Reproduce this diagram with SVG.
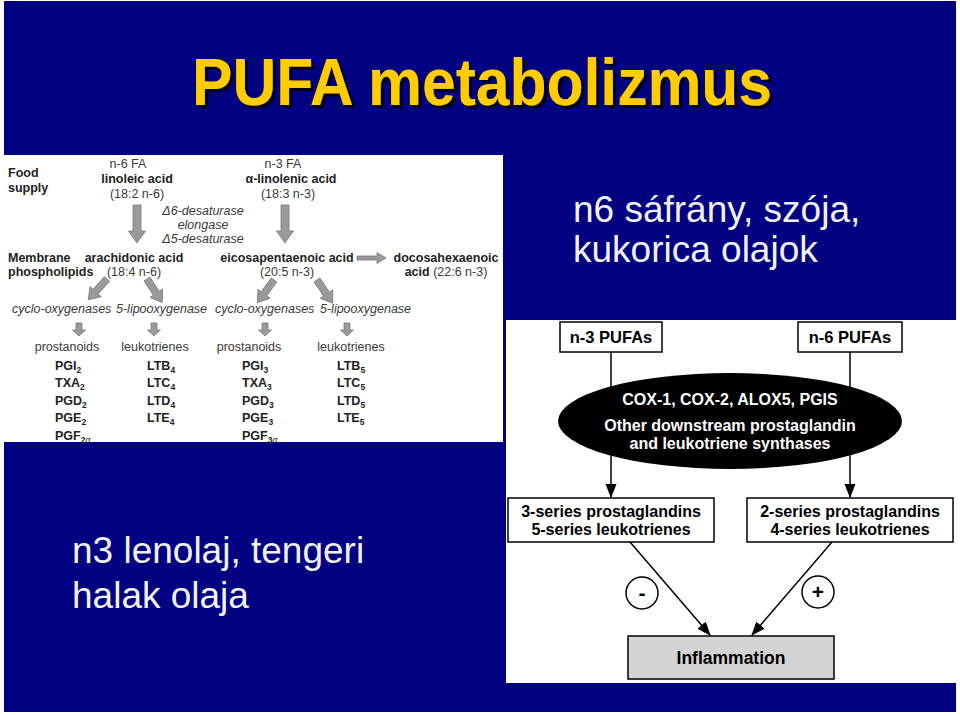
<svg xmlns="http://www.w3.org/2000/svg" width="960" height="716" viewBox="0 0 960 716">
<defs>
<style>
.lp{font-family:"Liberation Sans",Arial,sans-serif;font-size:12.5px;fill:#222}
.b{font-weight:bold}
.i{font-style:italic}
.n{fill:#3a3a3a}
.m{text-anchor:middle}
.sub{font-size:8.5px}
.rp{font-family:"Liberation Sans",Arial,sans-serif;font-size:16px;font-weight:bold;fill:#000;text-anchor:middle}
.el{fill:#fff;font-size:16px}
.box{fill:#fff;stroke:#000;stroke-width:1.5}
.side{font-family:"Liberation Sans",Arial,sans-serif;font-size:37px;fill:#f2f2ff}
.garrow{fill:#9a9a9a;stroke:#7a7a7a;stroke-width:0.8}
.con{stroke:#000;stroke-width:1.5;fill:none}
</style>
<filter id="shadow" x="-5%" y="-20%" width="110%" height="140%">
<feOffset in="SourceAlpha" dx="2.5" dy="2.5" result="off"/>
<feFlood flood-color="#000000"/>
<feComposite in2="off" operator="in" result="sh"/>
<feMerge><feMergeNode in="sh"/><feMergeNode in="SourceGraphic"/></feMerge>
</filter>
<marker id="ah" markerUnits="userSpaceOnUse" markerWidth="14" markerHeight="14" viewBox="0 0 14 14" refX="13" refY="7" orient="auto">
<path d="M0,1.5 L14,7 L0,12.5 Z" fill="#000"/>
</marker>
<path id="bigA" d="M-4,0 H4 V26 H8.5 L0,38 L-8.5,26 H-4 Z"/>
<path id="smA" d="M-3,0 H3 V7 H6.5 L0,13 L-6.5,7 H-3 Z"/>
<path id="dgA" d="M-3.5,0 H3.5 V17 H7.5 L0,28 L-7.5,17 H-3.5 Z"/>
</defs>

<rect x="0" y="0" width="960" height="716" fill="#ffffff"/>
<rect x="4" y="1" width="952" height="711" fill="#000080"/>

<g id="title">
<text x="482" y="105" text-anchor="middle" font-family="'Liberation Sans Narrow','Liberation Sans',Arial,sans-serif" font-weight="bold" font-size="66" textLength="580" lengthAdjust="spacingAndGlyphs" fill="#FFCC00" filter="url(#shadow)">PUFA metabolizmus</text>
</g>

<g id="n6-text">
<text class="side" x="573" y="222">n6 sáfrány, szója,</text>
<text class="side" x="573" y="262">kukorica olajok</text>
</g>
<g id="n3-text">
<text class="side" x="72" y="563">n3 lenolaj, tengeri</text>
<text class="side" x="72" y="608">halak olaja</text>
</g>

<g id="left-panel">
<rect x="4" y="155" width="499" height="287" fill="#ffffff"/>
<text class="lp b" x="8" y="177">Food</text>
<text class="lp b" x="8" y="192">supply</text>
<text class="lp n m" x="128" y="168">n-6 FA</text>
<text class="lp b m" x="137" y="183">linoleic acid</text>
<text class="lp n m" x="137" y="198">(18:2 n-6)</text>
<use href="#bigA" class="garrow" x="137" y="205"/>
<text class="lp n m i" x="203" y="215">Δ6-desaturase</text>
<text class="lp n m i" x="203" y="229">elongase</text>
<text class="lp n m i" x="203" y="243">Δ5-desaturase</text>
<text class="lp n m" x="283" y="168">n-3 FA</text>
<text class="lp b m" x="291" y="183">α-linolenic acid</text>
<text class="lp n m" x="288" y="198">(18:3 n-3)</text>
<use href="#bigA" class="garrow" x="285" y="205"/>
<text class="lp b" x="8" y="262">Membrane</text>
<text class="lp b" x="8" y="276">phospholipids</text>
<text class="lp b m" x="134" y="262">arachidonic acid</text>
<text class="lp n m" x="134" y="276">(18:4 n-6)</text>
<text class="lp b m" x="287" y="262">eicosapentaenoic acid</text>
<text class="lp n m" x="287" y="276">(20:5 n-3)</text>
<path class="garrow" d="M357,256 H377 V252.5 L386,258 L377,263.5 V260 H357 Z"/>
<text class="lp b m" x="446" y="262">docosahexaenoic</text>
<text class="lp m" x="446" y="276"><tspan class="b">acid</tspan><tspan class="n"> (22:6 n-3)</tspan></text>
<use href="#dgA" class="garrow" transform="translate(107,279) rotate(42)"/>
<use href="#dgA" class="garrow" transform="translate(147,279) rotate(-33)"/>
<use href="#dgA" class="garrow" transform="translate(274,280) rotate(36)"/>
<use href="#dgA" class="garrow" transform="translate(317,280) rotate(-34)"/>
<text class="lp n i" x="12" y="313">cyclo-oxygenases</text>
<text class="lp n i" x="116" y="313">5-lipooxygenase</text>
<text class="lp n i" x="215" y="313">cyclo-oxygenases</text>
<text class="lp n i" x="320" y="313">5-lipooxygenase</text>
<use href="#smA" class="garrow" x="79" y="323"/>
<use href="#smA" class="garrow" x="154" y="323"/>
<use href="#smA" class="garrow" x="265" y="323"/>
<use href="#smA" class="garrow" x="347" y="323"/>
<text class="lp n m" x="67" y="351">prostanoids</text>
<text class="lp n m" x="155" y="351">leukotrienes</text>
<text class="lp n m" x="249" y="351">prostanoids</text>
<text class="lp n m" x="351" y="351">leukotrienes</text>
<text class="lp b" x="55" y="370">PGI<tspan class="sub" dy="3">2</tspan></text>
<text class="lp b" x="55" y="387">TXA<tspan class="sub" dy="3">2</tspan></text>
<text class="lp b" x="55" y="405">PGD<tspan class="sub" dy="3">2</tspan></text>
<text class="lp b" x="55" y="422">PGE<tspan class="sub" dy="3">2</tspan></text>
<text class="lp b" x="55" y="440">PGF<tspan class="sub" dy="3">2<tspan font-style="italic" font-weight="normal">α</tspan></tspan></text>
<text class="lp b" x="147" y="370">LTB<tspan class="sub" dy="3">4</tspan></text>
<text class="lp b" x="147" y="387">LTC<tspan class="sub" dy="3">4</tspan></text>
<text class="lp b" x="147" y="405">LTD<tspan class="sub" dy="3">4</tspan></text>
<text class="lp b" x="147" y="422">LTE<tspan class="sub" dy="3">4</tspan></text>
<text class="lp b" x="242" y="370">PGI<tspan class="sub" dy="3">3</tspan></text>
<text class="lp b" x="242" y="387">TXA<tspan class="sub" dy="3">3</tspan></text>
<text class="lp b" x="242" y="405">PGD<tspan class="sub" dy="3">3</tspan></text>
<text class="lp b" x="242" y="422">PGE<tspan class="sub" dy="3">3</tspan></text>
<text class="lp b" x="242" y="440">PGF<tspan class="sub" dy="3">3<tspan font-style="italic" font-weight="normal">α</tspan></tspan></text>
<text class="lp b" x="337" y="370">LTB<tspan class="sub" dy="3">5</tspan></text>
<text class="lp b" x="337" y="387">LTC<tspan class="sub" dy="3">5</tspan></text>
<text class="lp b" x="337" y="405">LTD<tspan class="sub" dy="3">5</tspan></text>
<text class="lp b" x="337" y="422">LTE<tspan class="sub" dy="3">5</tspan></text>
</g>

<rect x="506" y="320" width="454" height="363" fill="#ffffff"/>

<g id="connectors">
<line class="con" x1="611" y1="352" x2="611" y2="497" marker-end="url(#ah)"/>
<line class="con" x1="850" y1="352" x2="850" y2="497" marker-end="url(#ah)"/>
<line class="con" x1="630" y1="542" x2="710" y2="635" marker-end="url(#ah)"/>
<line class="con" x1="832" y1="542" x2="752" y2="635" marker-end="url(#ah)"/>
</g>

<g id="n3-pufas">
<rect class="box" x="560" y="322" width="102" height="30"/>
<text class="rp" x="611" y="343" style="font-size:16.5px">n-3 PUFAs</text>
</g>
<g id="n6-pufas">
<rect class="box" x="798" y="322" width="104" height="30"/>
<text class="rp" x="850" y="343" style="font-size:16.5px">n-6 PUFAs</text>
</g>
<g id="enzymes">
<ellipse cx="730" cy="421" rx="172" ry="48" fill="#000"/>
<text class="rp el" x="730" y="405">COX-1, COX-2, ALOX5, PGIS</text>
<text class="rp el" x="730" y="431">Other downstream prostaglandin</text>
<text class="rp el" x="730" y="449">and leukotriene synthases</text>
</g>
<g id="series-3-5">
<rect class="box" x="508" y="498" width="206" height="44"/>
<text class="rp" x="611" y="517">3-series prostaglandins</text>
<text class="rp" x="611" y="535">5-series leukotrienes</text>
</g>
<g id="series-2-4">
<rect class="box" x="747" y="498" width="206" height="44"/>
<text class="rp" x="850" y="517">2-series prostaglandins</text>
<text class="rp" x="850" y="535">4-series leukotrienes</text>
</g>
<g id="minus">
<circle class="box" cx="642" cy="593" r="16"/>
<text class="rp" x="642" y="600" style="font-size:21px">-</text>
</g>
<g id="plus">
<circle class="box" cx="818" cy="592" r="16"/>
<text class="rp" x="818" y="599" style="font-size:21px">+</text>
</g>
<g id="inflammation">
<rect x="628" y="636" width="206" height="43" fill="#d4d4d4" stroke="#000" stroke-width="1.5"/>
<text class="rp" x="731" y="664" style="font-size:17.5px">Inflammation</text>
</g>
</svg>
